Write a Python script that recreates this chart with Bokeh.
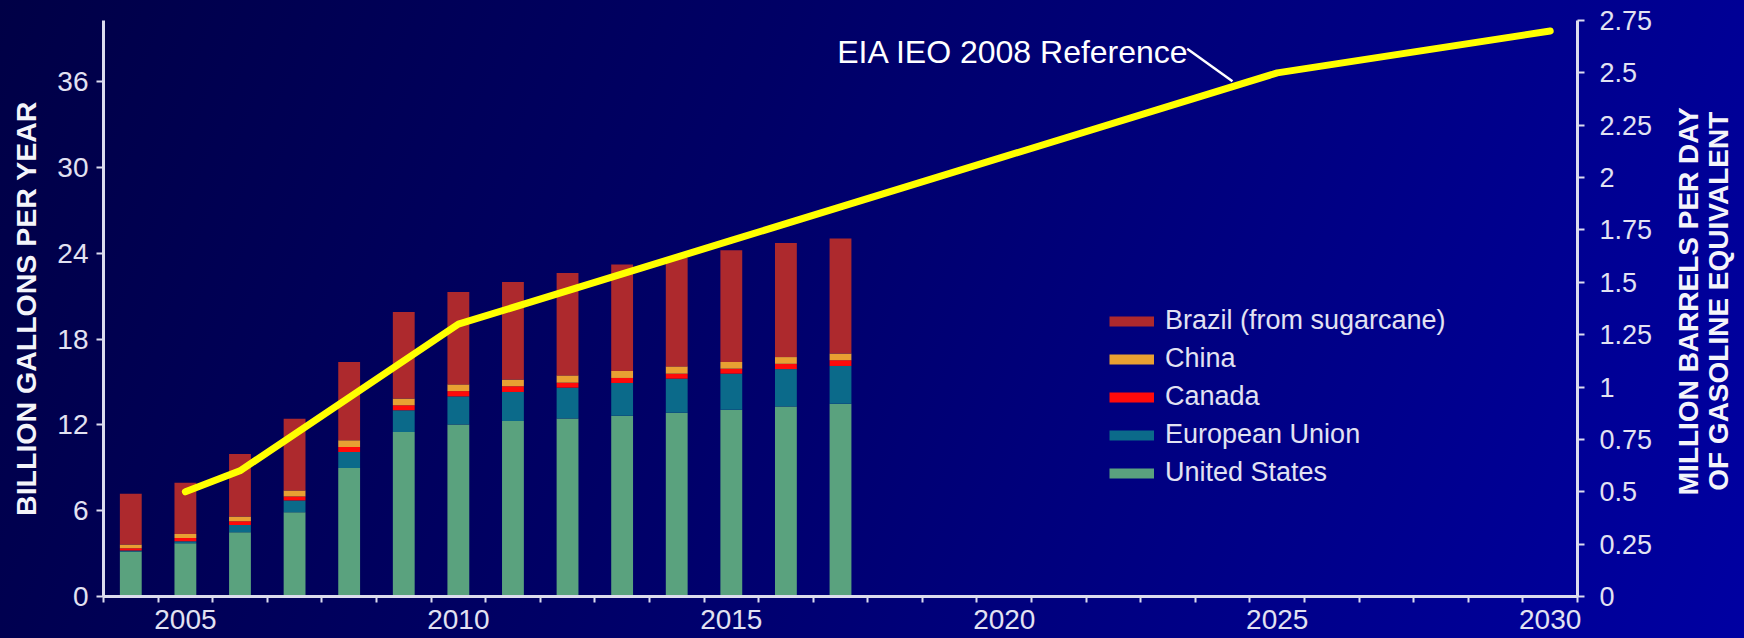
import math
from bokeh.plotting import figure
from bokeh.layouts import row
from bokeh.models import Range1d, LinearAxis, FixedTicker, Legend, LegendItem, Label
from bokeh.embed import file_html
from bokeh.resources import INLINE

# ---------------- data ----------------
years = [2004, 2005, 2006, 2007, 2008, 2009, 2010, 2011, 2012, 2013, 2014, 2015, 2016, 2017]
united_states = [3.15, 3.73, 4.50, 5.90, 8.99, 11.51, 12.04, 12.28, 12.46, 12.65, 12.86, 13.07, 13.30, 13.49]
european_union = [0.07, 0.14, 0.51, 0.82, 1.12, 1.52, 1.96, 2.03, 2.15, 2.29, 2.38, 2.52, 2.61, 2.64]
canada = [0.16, 0.23, 0.26, 0.28, 0.35, 0.35, 0.37, 0.40, 0.35, 0.35, 0.35, 0.35, 0.37, 0.40]
china = [0.26, 0.28, 0.33, 0.42, 0.47, 0.47, 0.47, 0.47, 0.51, 0.49, 0.51, 0.47, 0.47, 0.47]
brazil = [3.55, 3.58, 4.37, 5.02, 5.48, 6.06, 6.47, 6.83, 7.17, 7.44, 7.59, 7.82, 7.99, 8.04]

eia_years = [2005, 2006, 2010, 2015, 2020, 2025, 2030]
eia_mbd = [0.50, 0.60, 1.30, 1.70, 2.10, 2.50, 2.70]

series_names = ["United States", "European Union", "Canada", "China", "Brazil (from sugarcane)"]
series_colors = ["#5aa27e", "#0b6a8a", "#ff0a0a", "#e8a032", "#ad292d"]

left_ticks = [0, 6, 12, 18, 24, 30, 36]
right_ticks = [0, 0.25, 0.5, 0.75, 1, 1.25, 1.5, 1.75, 2, 2.25, 2.5, 2.75]
right_tick_labels = ["0", "0.25", "0.5", "0.75", "1", "1.25", "1.5", "1.75", "2", "2.25", "2.5", "2.75"]
x_label_years = [2005, 2010, 2015, 2020, 2025, 2030]
x_min, x_max = 2003.5, 2030.5

left_title = "BILLION GALLONS PER YEAR"
right_title_lines = ["MILLION BARRELS PER DAY", "OF GASOLINE EQUIVALENT"]
annotation_text = "EIA IEO 2008 Reference"

# ---------------- style ----------------
AXIS_COL = "#dcdcee"
TXT_COL = "#e2e2f2"
FONT = "Liberation Sans"
MAIN_W = 1657
TOTAL_W = 1744
H = 638

p = figure(width=MAIN_W, height=H,
           x_range=Range1d(x_min, x_max), y_range=Range1d(0, 40.3),
           output_backend="svg", toolbar_location=None,
           min_border_left=103, min_border_right=80, min_border_top=20, min_border_bottom=42,
           background_fill_alpha=0, border_fill_alpha=0, outline_line_color=None)
p.grid.visible = False
p.extra_y_ranges = {"right": Range1d(0, 2.75)}

# stacked bars
data = {"year": years}
keys = []
for name, vals in zip(series_names, [united_states, european_union, canada, china, brazil]):
    data[name] = vals
    keys.append(name)
p.vbar_stack(keys, x="year", width=0.4, color=series_colors, line_color=None, source=data)

# EIA line
p.line(eia_years, eia_mbd, y_range_name="right", line_color="#ffff00", line_width=7,
       line_cap="round", line_join="round")

# annotation
p.add_layout(Label(x=2016.94, y=2.60, y_range_name="right", text=annotation_text,
                   text_color="white", text_font_size="32px", text_font=FONT,
                   text_baseline="alphabetic"))
p.segment(x0=[2023.35], y0=[2.615], x1=[2024.18], y1=[2.46], y_range_name="right",
          line_color="white", line_width=2.5)

# x axis
xa = p.xaxis[0]
xa.ticker = FixedTicker(ticks=x_label_years, minor_ticks=[x_min + i for i in range(int(x_max - x_min) + 1)])
xa.major_tick_out = 0
xa.major_tick_in = 0
xa.minor_tick_out = 6
xa.minor_tick_in = 0
xa.minor_tick_line_color = AXIS_COL
xa.minor_tick_line_width = 2
xa.axis_line_color = AXIS_COL
xa.axis_line_width = 3
xa.major_label_text_font_size = "28px"
xa.major_label_text_font = FONT
xa.major_label_text_color = TXT_COL
xa.major_label_standoff = 7

# left axis
ya = p.yaxis[0]
ya.ticker = FixedTicker(ticks=left_ticks)
ya.major_tick_out = 7
ya.major_tick_in = 0
ya.minor_tick_out = 0
ya.minor_tick_in = 0
ya.major_tick_line_color = AXIS_COL
ya.major_tick_line_width = 2
ya.axis_line_color = AXIS_COL
ya.axis_line_width = 3
ya.major_label_text_font_size = "28px"
ya.major_label_text_font = FONT
ya.major_label_text_color = TXT_COL
ya.major_label_standoff = 8
ya.axis_label = left_title
ya.axis_label_text_font = FONT
ya.axis_label_text_font_style = "bold"
ya.axis_label_text_font_size = "28.5px"
ya.axis_label_text_color = "#f4f4fa"
ya.axis_label_standoff = 12

# right axis
ra = LinearAxis(y_range_name="right", ticker=FixedTicker(ticks=right_ticks),
                major_label_overrides=dict(zip(right_ticks, right_tick_labels)))
ra.major_tick_out = 7
ra.major_tick_in = 0
ra.minor_tick_out = 0
ra.minor_tick_in = 0
ra.major_tick_line_color = AXIS_COL
ra.major_tick_line_width = 2
ra.axis_line_color = AXIS_COL
ra.axis_line_width = 3
ra.major_label_text_font_size = "27px"
ra.major_label_text_font = FONT
ra.major_label_text_color = TXT_COL
ra.major_label_standoff = 15
p.add_layout(ra, "right")

# legend (proxy renderers with a single NaN point so nothing is drawn in the plot)
items = []
for name, col in reversed(list(zip(series_names, series_colors))):
    r = p.line(x=[float("nan")], y=[float("nan")], line_color=col, line_width=10)
    items.append(LegendItem(label=name, renderers=[r]))
legend = Legend(items=items, location=(1006, 108), glyph_width=45, glyph_height=30,
                label_height=30, spacing=7, padding=0, margin=0, label_standoff=11,
                label_text_font_size="27px", label_text_font=FONT, label_text_color=TXT_COL,
                background_fill_alpha=0, border_line_alpha=0)
p.add_layout(legend)

# narrow side panel carrying the right-axis title (two rotated lines, reading upward)
side_w = TOTAL_W - MAIN_W
q = figure(width=side_w, height=H, x_range=Range1d(0, side_w), y_range=Range1d(0, H),
           x_axis_type=None, y_axis_type=None, output_backend="svg", toolbar_location=None,
           min_border=0, background_fill_alpha=0, border_fill_alpha=0, outline_line_color=None)
q.grid.visible = False
for line_text, sx in zip(right_title_lines, [1688 - MAIN_W, 1718 - MAIN_W]):
    q.add_layout(Label(x=sx, y=H - 311, text=line_text,
                       angle=math.pi / 2, text_align="center", text_baseline="middle",
                       text_font=FONT, text_font_style="bold", text_font_size="28px",
                       text_color="#f4f4fa"))

layout = row(p, q, spacing=0)

html = file_html(layout, INLINE, title="Ethanol production")
css = ("<style>html,body{margin:0;padding:0;}"
       "body{background:linear-gradient(112deg,#000046 0%,#000066 40%,#0000a2 100%);}</style>")
html = html.replace("</head>", css + "</head>", 1)
open("out.html", "w").write(html)
